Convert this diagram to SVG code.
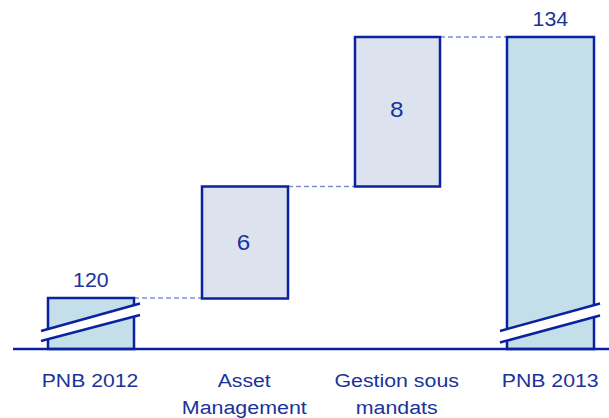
<svg xmlns="http://www.w3.org/2000/svg" width="609" height="418" viewBox="0 0 609 418">
<style>
.bar{stroke:#0A22A0;stroke-width:2.5}
.tot{fill:#C5DFEA}
.step{fill:#DDE3EE}
.brk{stroke:#0A22A0;stroke-width:2.5;fill:none}
.gap{fill:#ffffff;stroke:none}
.dash{stroke:#7F8FD0;stroke-width:1.5;stroke-dasharray:5,3;fill:none}
text{font-family:"Liberation Sans",Arial,sans-serif;fill:#1A3399;text-anchor:middle}
.ax{font-size:18px}
.tv{font-size:19.5px}
.sv{font-size:21.5px}
</style>
<rect width="609" height="418" fill="#ffffff"/>
<g id="connectors">
<line class="dash" x1="134" y1="298" x2="202" y2="298"/>
<line class="dash" x1="288" y1="186.5" x2="355" y2="186.5"/>
<line class="dash" x1="440" y1="37" x2="507" y2="37"/>
</g>
<g id="pnb2012">
<rect class="bar tot" x="48" y="298" width="86" height="51"/>
<polygon class="gap" points="41,331 140,303.5 140,315 41,341"/>
<line class="brk" x1="41" y1="331" x2="140" y2="303.5"/>
<line class="brk" x1="41" y1="341" x2="140" y2="315"/>
<text class="tv" x="90.8" y="287" textLength="35.5" lengthAdjust="spacingAndGlyphs">120</text>
</g>
<g id="asset">
<rect class="bar step" x="202" y="186.5" width="86" height="112"/>
<text class="sv" x="243.5" y="250.3" textLength="13.5" lengthAdjust="spacingAndGlyphs">6</text>
</g>
<g id="gestion">
<rect class="bar step" x="355" y="37" width="85" height="149.5"/>
<text class="sv" x="396.8" y="117" textLength="13.5" lengthAdjust="spacingAndGlyphs">8</text>
</g>
<g id="pnb2013">
<rect class="bar tot" x="507" y="37" width="87" height="312"/>
<polygon class="gap" points="500,331 600,303.5 600,315.5 500,342.5"/>
<line class="brk" x1="500" y1="331" x2="600" y2="303.5"/>
<line class="brk" x1="500" y1="342.5" x2="600" y2="315.5"/>
<text class="tv" x="550.3" y="25.7" textLength="35.5" lengthAdjust="spacingAndGlyphs">134</text>
</g>
<g id="axis">
<line x1="13" y1="349" x2="609" y2="349" stroke="#0A22A0" stroke-width="2.5"/>
</g>
<g id="labels">
<text class="ax" x="90" y="387.3" textLength="96.5" lengthAdjust="spacingAndGlyphs">PNB 2012</text>
<text class="ax" x="244.2" y="387.3" textLength="53" lengthAdjust="spacingAndGlyphs">Asset</text>
<text class="ax" x="244.3" y="414.3" textLength="125" lengthAdjust="spacingAndGlyphs">Management</text>
<text class="ax" x="396.7" y="387.3" textLength="124.5" lengthAdjust="spacingAndGlyphs">Gestion sous</text>
<text class="ax" x="396.7" y="414.3" textLength="82" lengthAdjust="spacingAndGlyphs">mandats</text>
<text class="ax" x="550.2" y="387.3" textLength="97" lengthAdjust="spacingAndGlyphs">PNB 2013</text>
</g>
</svg>
